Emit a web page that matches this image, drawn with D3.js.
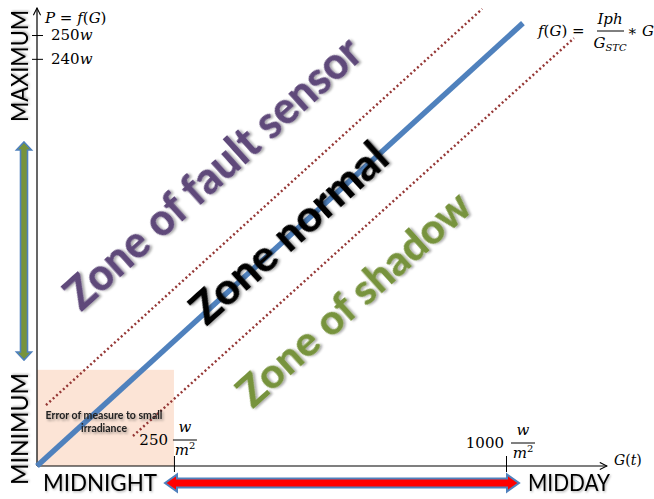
<!DOCTYPE html>
<html><head><meta charset="utf-8">
<script src="https://cdn.jsdelivr.net/npm/d3@7"></script>
<style>body{margin:0;background:#fff}</style>
</head><body><svg id="chart" width="654" height="499"></svg>
<script>
// ---------- data (schematic units 0..100 on both axes) ----------
const xTickValues = [23.9, 81.85];
const xTickNumbers = ["250", "1000"];
const yTickValues = [94.1, 88.9];
const yTickNumbers = ["250", "240"];
const nominalX = [0, 84.8],   nominalY = [0, 96.7];
const upperX   = [1.57, 77.7], upperY   = [13.3, 99.8];
const lowerX   = [16.75, 93.7], lowerY  = [6.55, 93.4];
const errorZoneX = [0, 23.9], errorZoneY = [0, 21.0];
const zoneNames = ["Zone of fault sensor", "Zone normal", "Zone of shadow"];
const zoneAnchorX = [30.5, 43.8, 55.1];
const zoneAnchorY = [64.2, 51.1, 36.7];
const yEndLabels = ["MAXIMUM", "MINIMUM"];
const xEndLabels = ["MIDNIGHT", "MIDDAY"];
const errorLines = ["Error of measure to small", "irradiance"];

// ---------- layout ----------
const svg = d3.select("#chart");
const sx = d3.scaleLinear().domain([0, 100]).range([37, 610]);
const sy = d3.scaleLinear().domain([0, 100]).range([466, 8]);
const MATH = "'DejaVu Serif', 'Liberation Serif', serif";
const SANS = "Lato, 'Open Sans', sans-serif";

const defs = svg.append("defs");
defs.append("marker").attr("id", "arr").attr("markerUnits", "userSpaceOnUse")
  .attr("viewBox", "0 0 10 10").attr("refX", 9).attr("refY", 5)
  .attr("markerWidth", 9).attr("markerHeight", 9).attr("orient", "auto")
  .append("path").attr("d", "M1,1 L9,5 L1,9").attr("fill", "none")
  .attr("stroke", "#000").attr("stroke-width", 1.2);
const f = defs.append("filter").attr("id", "sh").attr("x", "-20%").attr("y", "-20%")
  .attr("width", "140%").attr("height", "140%");
f.append("feDropShadow").attr("dx", 1.5).attr("dy", 1.8).attr("stdDeviation", 1.2)
  .attr("flood-color", "#000").attr("flood-opacity", 0.35);
const f2 = defs.append("filter").attr("id", "sh2").attr("x", "-20%").attr("y", "-20%")
  .attr("width", "140%").attr("height", "140%");
f2.append("feDropShadow").attr("dx", 1).attr("dy", 1.2).attr("stdDeviation", 0.8)
  .attr("flood-color", "#000").attr("flood-opacity", 0.3);

// error zone
svg.append("rect")
  .attr("x", sx(errorZoneX[0])).attr("y", sy(errorZoneY[1]))
  .attr("width", sx(errorZoneX[1]) - sx(errorZoneX[0]))
  .attr("height", sy(errorZoneY[0]) - sy(errorZoneY[1]))
  .attr("fill", "#fce4d6");

// axes lines with arrows
svg.append("line").attr("x1", sx(0)).attr("y1", sy(0)).attr("x2", sx(100) - 3).attr("y2", sy(0))
  .attr("stroke", "#000").attr("stroke-width", 1.2).attr("marker-end", "url(#arr)");
svg.append("line").attr("x1", sx(0)).attr("y1", sy(0)).attr("x2", sx(0)).attr("y2", sy(100))
  .attr("stroke", "#000").attr("stroke-width", 1.2).attr("marker-end", "url(#arr)");

// ticks via d3 axes
const xAxis = svg.append("g").attr("transform", `translate(0,${sy(0)})`)
  .call(d3.axisBottom(sx).tickValues(xTickValues).tickFormat("").tickSizeOuter(0));
xAxis.select(".domain").remove();
xAxis.selectAll(".tick line").attr("y1", -10).attr("y2", 6).attr("stroke", "#000");
const yAxis = svg.append("g").attr("transform", `translate(${sx(0)},0)`)
  .call(d3.axisLeft(sy).tickValues(yTickValues).tickFormat("").tickSizeOuter(0));
yAxis.select(".domain").remove();
yAxis.selectAll(".tick line").attr("x1", -5).attr("x2", 6).attr("stroke", "#000");

// lines
const line = d3.line().x(d => sx(d[0])).y(d => sy(d[1]));
const pts = (X, Y) => X.map((x, i) => [x, Y[i]]);
svg.append("path").attr("d", line(pts(upperX, upperY))).attr("fill", "none")
  .attr("stroke", "#953735").attr("stroke-width", 2.4).attr("stroke-dasharray", "2 2.6");
svg.append("path").attr("d", line(pts(lowerX, lowerY))).attr("fill", "none")
  .attr("stroke", "#953735").attr("stroke-width", 2.4).attr("stroke-dasharray", "2 2.6");
svg.append("path").attr("d", line(pts(nominalX, nominalY))).attr("fill", "none")
  .attr("stroke", "#4f81bd").attr("stroke-width", 5.5);

// zone labels
const zoneColors = ["#5f497a", "#000000", "#77933c"];
const zoneSizes = [45, 43, 42];
const zoneLens = [382, 248, 298];
zoneNames.forEach((t, i) => {
  svg.append("text")
    .attr("transform", `translate(${sx(zoneAnchorX[i])},${sy(zoneAnchorY[i])}) rotate(-42)`)
    .attr("text-anchor", "middle").attr("dominant-baseline", "central")
    .attr("font-family", SANS).attr("font-weight", 900).attr("font-size", zoneSizes[i])
    .attr("fill", zoneColors[i]).attr("filter", "url(#sh)")
    .attr("textLength", zoneLens[i]).attr("lengthAdjust", "spacingAndGlyphs")
    .text(t);
});

// error text
errorLines.forEach((t, i) => {
  svg.append("text").attr("x", 104).attr("y", 419 + i * 13).attr("text-anchor", "middle")
    .attr("font-family", SANS).attr("font-weight", 700).attr("font-size", 10.5)
    .attr("fill", "#222").attr("filter", "url(#sh)")
    .attr("textLength", i === 0 ? 117 : 46).attr("lengthAdjust", "spacingAndGlyphs")
    .text(t);
});

// end labels
svg.append("text").attr("transform", "translate(28,66) rotate(-90)").attr("text-anchor", "middle")
  .attr("font-family", SANS).attr("font-size", 24).attr("textLength", 112)
  .attr("filter", "url(#sh2)")
  .attr("lengthAdjust", "spacingAndGlyphs").text(yEndLabels[0]);
svg.append("text").attr("transform", "translate(28,429) rotate(-90)").attr("text-anchor", "middle")
  .attr("font-family", SANS).attr("font-size", 24).attr("textLength", 112)
  .attr("filter", "url(#sh2)")
  .attr("lengthAdjust", "spacingAndGlyphs").text(yEndLabels[1]);
svg.append("text").attr("x", 43).attr("y", 491).attr("font-family", SANS).attr("font-size", 24)
  .attr("filter", "url(#sh2)")
  .attr("textLength", 114).attr("lengthAdjust", "spacingAndGlyphs").text(xEndLabels[0]);
svg.append("text").attr("x", 528).attr("y", 491).attr("font-family", SANS).attr("font-size", 24)
  .attr("filter", "url(#sh2)")
  .attr("textLength", 82).attr("lengthAdjust", "spacingAndGlyphs").text(xEndLabels[1]);

// double arrows
function hArrow(x1, x2, cy, sw, hw, hl) {
  return `M${x1},${cy} L${x1 + hl},${cy - hw} L${x1 + hl},${cy - sw} L${x2 - hl},${cy - sw} L${x2 - hl},${cy - hw} L${x2},${cy} L${x2 - hl},${cy + hw} L${x2 - hl},${cy + sw} L${x1 + hl},${cy + sw} L${x1 + hl},${cy + hw} Z`;
}
function vArrow(y1, y2, cx, sw, hw, hl) {
  return `M${cx},${y1} L${cx + hw},${y1 + hl} L${cx + sw},${y1 + hl} L${cx + sw},${y2 - hl} L${cx + hw},${y2 - hl} L${cx},${y2} L${cx - hw},${y2 - hl} L${cx - sw},${y2 - hl} L${cx - sw},${y1 + hl} L${cx - hw},${y1 + hl} Z`;
}
svg.append("path").attr("d", hArrow(165, 519, 483, 4.5, 8.5, 12))
  .attr("fill", "#ff0000").attr("stroke", "#4f81bd").attr("stroke-width", 2);
svg.append("path").attr("d", vArrow(142, 360, 24, 3.5, 7.5, 8))
  .attr("fill", "#77933c").attr("stroke", "#4f81bd").attr("stroke-width", 1.6);

// math labels
function mathText(x, y, parts, size, anchor) {
  const t = svg.append("text").attr("x", x).attr("y", y).attr("font-family", MATH)
    .attr("font-size", size).attr("text-anchor", anchor || "start");
  parts.forEach(p => {
    const s = t.append("tspan").text(p.t);
    if (p.i) s.attr("font-style", "italic");
    if (p.dy) s.attr("dy", p.dy);
    if (p.fs) s.attr("font-size", p.fs);
  });
  return t;
}
mathText(45, 23, [{t: "P", i: 1}, {t: " = "}, {t: "f", i: 1}, {t: "("}, {t: "G", i: 1}, {t: ")"}], 15);
yTickValues.forEach((v, i) => {
  mathText(51, sy(v) + 5, [{t: yTickNumbers[i]}, {t: "w", i: 1}], 15);
});
mathText(614, 465, [{t: "G", i: 1}, {t: "("}, {t: "t", i: 1}, {t: ")"}], 14);

// fraction tick labels
function unitLabel(num, cx, barY, numRight) {
  mathText(numRight, barY + 5, [{t: num}], 15, "end");
  svg.append("line").attr("x1", cx - 12).attr("x2", cx + 12).attr("y1", barY).attr("y2", barY)
    .attr("stroke", "#000").attr("stroke-width", 1);
  mathText(cx, barY - 8, [{t: "w", i: 1}], 15, "middle");
  mathText(cx, barY + 15, [{t: "m", i: 1}, {t: "2", dy: -6, fs: 10}], 15, "middle");
}
unitLabel(xTickNumbers[0], sx(xTickValues[0]) + 11, 440, 168);
unitLabel(xTickNumbers[1], sx(xTickValues[1]) + 17, 443, 504);

// formula f(G) = Iph / G_STC * G
mathText(538, 36, [{t: "f", i: 1}, {t: "("}, {t: "G", i: 1}, {t: ")"}, {t: " = "}], 15);
svg.append("line").attr("x1", 597).attr("x2", 624).attr("y1", 31).attr("y2", 31)
  .attr("stroke", "#000").attr("stroke-width", 1);
mathText(610, 24, [{t: "Iph", i: 1}], 15, "middle");
mathText(610, 48, [{t: "G", i: 1}, {t: "STC", i: 1, fs: 10, dy: 3}], 15, "middle");
mathText(627, 36, [{t: "∗ "}, {t: "G", i: 1}], 15);
</script></body></html>
